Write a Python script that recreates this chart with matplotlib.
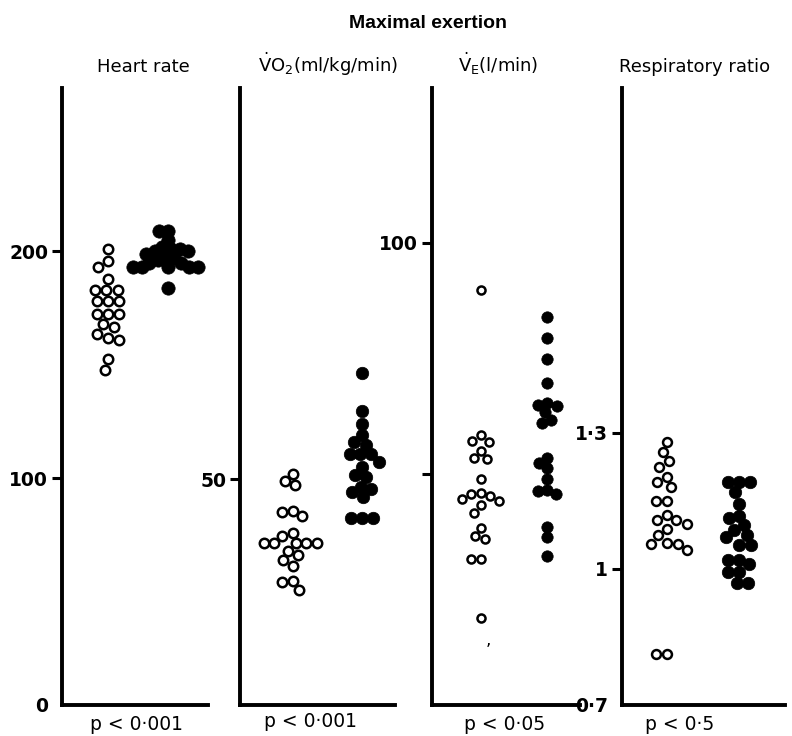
import numpy as np
import matplotlib
matplotlib.use("Agg")
import matplotlib.pyplot as plt

plt.rcParams['font.family'] = ['DejaVu Sans']
plt.rcParams['mathtext.fontset'] = 'dejavusans'

W, H = 792, 736

# values (open = first group, filled = second group)
hr_open = [201, 195.6, 193, 188, 183, 183, 183, 178, 178, 178, 172.5, 172.5,
           172.5, 168, 166.5, 163.6, 162, 161, 152.7, 147.8]
hr_filled = [209, 209, 205, 202, 201, 201, 200, 200, 199, 198, 197, 196, 195,
             195, 193, 193, 193, 193, 193, 184]

vo2_open = [51.2, 48.7, 49.6, 41.9, 42.7, 43.0, 38.2, 37.5, 35.9, 35.9, 35.9,
            35.9, 35.9, 34.1, 33.2, 32.1, 30.8, 27.3, 27.5, 25.5]
vo2_filled = [73.5, 65.1, 62.3, 59.8, 58.3, 57.6, 55.6, 55.6, 55.6, 53.9, 52.7,
              51.0, 50.5, 48.4, 47.9, 47.3, 46.1, 41.4, 41.4, 41.4]

ve_open = [89.8, 57.0, 58.4, 57.2, 55.0, 53.4, 53.2, 48.9, 45.2, 45.9, 45.7,
           44.2, 44.6, 43.3, 41.6, 38.4, 35.9, 36.6, 31.5, 31.5, 18.8]
ve_filled = [84.0, 79.4, 74.9, 69.6, 64.9, 65.3, 64.6, 63.3, 61.7, 61.0, 53.4,
             52.4, 51.2, 48.9, 45.7, 46.5, 46.4, 38.5, 36.4, 32.3]

rr_open = [1.280, 1.258, 1.238, 1.225, 1.203, 1.192, 1.181, 1.151, 1.151, 1.120,
           1.100, 1.107, 1.109, 1.089, 1.074, 1.057, 1.056, 1.056, 1.043, 0.813,
           0.813]
rr_filled = [1.192, 1.192, 1.192, 1.170, 1.144, 1.117, 1.113, 1.096, 1.085,
             1.071, 1.074, 1.052, 1.052, 1.019, 1.019, 1.012, 0.993, 0.993,
             0.970, 0.970]

titles = ['Heart rate', r'$\dot{\mathrm{V}}\mathrm{O}_{2}$(ml/kg/min)',
          r'$\dot{\mathrm{V}}_{\mathrm{E}}$(l/min)', 'Respiratory ratio']
p_labels = ['p < 0·001', 'p < 0·001', 'p < 0·05', 'p < 0·5']
yticks = [[0, 100, 200], [50], [50, 100], [0.7, 1.0, 1.3]]
yticklabels = [['0', '100', '200'], ['50'], ['', '100'], ['0·7', '1', '1·3']]
ylims = [(0, 272), (0, 136.8), (0, 133.5), (0.7, 2.061)]
groups = [(hr_open, hr_filled), (vo2_open, vo2_filled),
          (ve_open, ve_filled), (rr_open, rr_filled)]

# layout in pixels
ax_left = [62, 240, 432, 622]
ax_right = [208, 395, 580, 785]
ax_top, ax_bot = 88, 705
centers = [(0.315, 0.725), (0.34, 0.787), (0.33, 0.78), (0.276, 0.718)]
open_ms = [6.8, 6.8, 5.8, 6.4]     # marker size (pt)
fill_ms = [9.6, 9.0, 8.2, 9.0]
fill_sq = [0.66, 0.85, 0.85, 0.85]
open_sq = [0.96, 0.9, 0.96, 0.96]
title_x = [143, 328, 498, 695]
p_x = [137, 310, 505, 680]
p_y = [730, 727, 730, 730]


def swarm(ax, values, xc, diam_px):
    """beeswarm x positions: same-level dots pushed sideways"""
    vals = np.asarray(values, float)
    pix = ax.transData.transform(np.column_stack([np.full(len(vals), xc), vals]))
    cx, ys = pix[0, 0], pix[:, 1]
    d = diam_px
    placed = []
    xs = np.zeros(len(vals))
    for i in np.argsort(-ys):
        y = ys[i]
        cands = [cx]
        for px, py in placed:
            dy = abs(py - y)
            if dy < d:
                dx = np.sqrt(d * d - dy * dy)
                cands += [px - dx, px + dx]
        cands.sort(key=lambda c: abs(c - cx))
        for c in cands:
            if all((c - px) ** 2 + (y - py) ** 2 >= d * d - 1e-6 for px, py in placed):
                xs[i] = c
                break
        placed.append((xs[i], y))
    return ax.transData.inverted().transform(np.column_stack([xs, ys]))[:, 0]


fig = plt.figure(figsize=(W / 100, H / 100), dpi=100)

for k in range(4):
    ax = fig.add_axes([ax_left[k] / W, 1 - ax_bot / H,
                       (ax_right[k] - ax_left[k]) / W, (ax_bot - ax_top) / H])
    ax.set_xlim(0, 1)
    ax.set_ylim(*ylims[k])
    for s in ['top', 'right']:
        ax.spines[s].set_visible(False)
    for s in ['left', 'bottom']:
        ax.spines[s].set_linewidth(2.8)
    ax.set_xticks([])
    ax.set_yticks(yticks[k])
    ax.set_yticklabels(yticklabels[k], fontsize=13.5, fontweight='bold')
    ax.tick_params(axis='y', direction='out', length=7.5, width=2.2, pad=2.5)
    if yticks[k][0] == ylims[k][0]:
        ax.yaxis.get_major_ticks()[0].tick1line.set_visible(False)

    op, fi = groups[k]
    c_open, c_fill = centers[k]
    d_open = (open_ms[k] + 1.8) * 100 / 72
    d_fill = fill_ms[k] * 100 / 72
    x_open = swarm(ax, op, c_open, d_open * open_sq[k])
    x_fill = swarm(ax, fi, c_fill, d_fill * fill_sq[k])
    ax.plot(x_open, op, 'o', ls='none', ms=open_ms[k], mfc='white', mec='black',
            mew=1.8, clip_on=False, zorder=3)
    ax.plot(x_fill, fi, 'o', ls='none', ms=fill_ms[k], mfc='black', mec='black',
            mew=0.5, clip_on=False, zorder=3)

    fig.text(title_x[k] / W, 1 - 72 / H, titles[k], ha='center', va='baseline',
             fontsize=13)
    fig.text(p_x[k] / W, 1 - p_y[k] / H, p_labels[k], ha='center', va='baseline',
             fontsize=13.5)

fig.text(428 / W, 1 - 28 / H, 'Maximal exertion', ha='center', va='baseline',
         fontsize=14, fontweight='bold', family=['Liberation Sans', 'DejaVu Sans'])
fig.text(488 / W, 1 - 645 / H, ',', ha='center', va='baseline', fontsize=12)

fig.savefig('out.png', dpi=100)
